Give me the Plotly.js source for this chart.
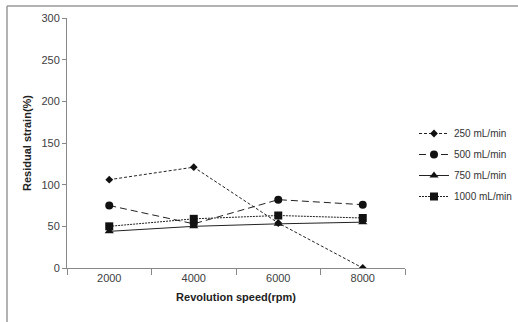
<!DOCTYPE html>
<html>
<head>
<meta charset="utf-8">
<script src="https://cdn.plot.ly/plotly-3.0.1.min.js"></script>
<style>
html,body{margin:0;padding:0;background:#fff;}
#chart{width:518px;height:322px;}
</style>
</head>
<body>
<div id="chart"></div>
<script>
var speeds = ["2000", "4000", "6000", "8000"];
var flow250 = [106, 121, 54, 0];
var flow500 = [75, 53, 82, 76];
var flow750 = [44, 50, 53, 55];
var flow1000 = [50, 59, 63, 60];
var seriesNames = ["250 mL/min", "500 mL/min", "750 mL/min", "1000 mL/min"];

var lineCol = "#222222";
var traces = [
  {x: speeds, y: flow250, name: seriesNames[0], mode: "lines+markers", legendgroup: "a",
   line: {color: lineCol, width: 1, dash: "3px,2px"}, marker: {symbol: "diamond", size: 6, color: "#111"}},
  {x: speeds, y: flow500, name: seriesNames[1], mode: "lines+markers", legendgroup: "b",
   line: {color: lineCol, width: 1, dash: "7px,4px"}, marker: {symbol: "circle", size: 8, color: "#111"}},
  {x: speeds, y: flow750, name: seriesNames[2], mode: "lines+markers", legendgroup: "c",
   line: {color: lineCol, width: 1}, marker: {symbol: "triangle-up", size: 8, color: "#111"}},
  {x: speeds, y: flow1000, name: seriesNames[3], mode: "lines+markers", legendgroup: "d",
   line: {color: lineCol, width: 1, dash: "2px,1px"}, marker: {symbol: "square", size: 8, color: "#111"}}
];

var fontFam = "Liberation Sans, Arial, sans-serif";
var layout = {
  width: 518, height: 322,
  margin: {l: 67, r: 113, t: 18, b: 54, autoexpand: false},
  paper_bgcolor: "#fff", plot_bgcolor: "#fff",
  showlegend: true,
  legend: {xref: "container", yref: "container", x: 414/518, y: 1 - 119/322, xanchor: "left", yanchor: "top",
           font: {family: fontFam, size: 10, color: "#333"},
           tracegroupgap: 2, itemwidth: 30},
  xaxis: {type: "category", range: [-0.5, 3.5], tickson: "boundaries", ticks: "outside", ticklen: 6,
          tickcolor: "#888", showline: true, linecolor: "#888", linewidth: 1, showgrid: false, zeroline: false,
          tickfont: {family: fontFam, size: 11, color: "#404040"},
          title: {text: "<b>Revolution speed(rpm)</b>", font: {family: fontFam, size: 11, color: "#222"}, standoff: 10}},
  yaxis: {range: [0, 300], dtick: 50, ticks: "outside", ticklen: 4, tickcolor: "#888", showline: true,
          linecolor: "#888", linewidth: 1, showgrid: false, zeroline: false,
          tickfont: {family: fontFam, size: 11, color: "#404040"},
          title: {text: "<b>Residual strain(%)</b>", font: {family: fontFam, size: 11, color: "#222"}, standoff: 7}},
  shapes: [
    {type: "line", xref: "paper", yref: "paper", x0: (7-67)/338, x1: (530-67)/338, y0: (268-6)/250, y1: (268-6)/250,
     line: {color: "#999", width: 1.5}},
    {type: "line", xref: "paper", yref: "paper", x0: (7-67)/338, x1: (7-67)/338, y0: (268-6)/250, y1: (268-330)/250,
     line: {color: "#999", width: 1.5}}
  ]
};
Plotly.newPlot("chart", traces, layout, {displayModeBar: false, staticPlot: true});
</script>
</body>
</html>
